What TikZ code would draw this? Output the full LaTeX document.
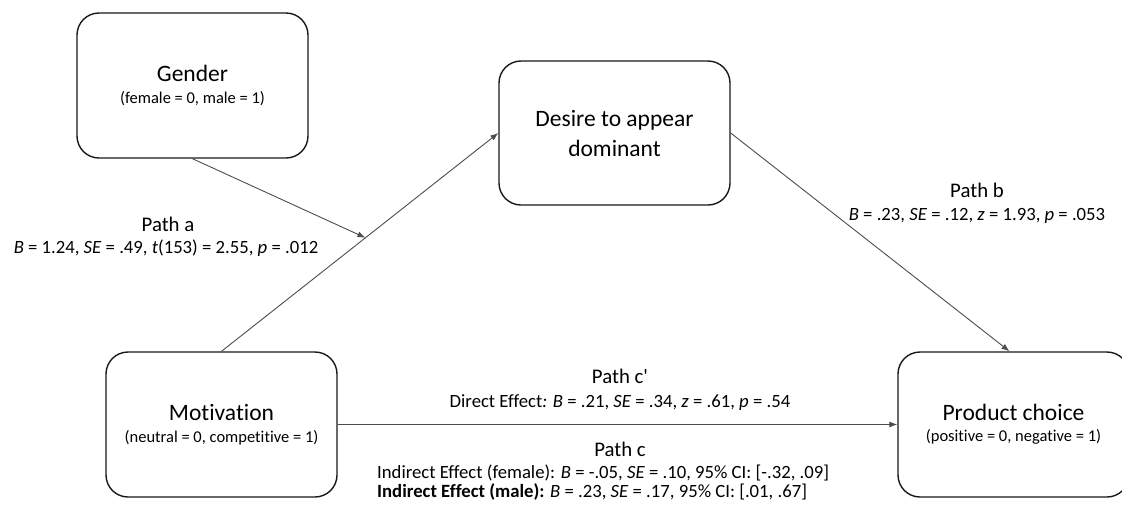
\documentclass[tikz,border=0pt]{standalone}
\usepackage{fontspec}
\setmainfont{Carlito}[Ligatures={TeX,NoCommon}]
\usetikzlibrary{arrows.meta}
\begin{document}
\begin{tikzpicture}[x=1pt,y=-1pt,
  box/.style={draw=black!90, line width=1.4pt, rounded corners=22pt,
    minimum width=231pt, minimum height=145pt, inner sep=0pt, align=center,
    font=\fontsize{16.5}{21.5}\selectfont},
  conn/.style={draw=black!70, line width=0.9pt, -{Latex[length=8pt,width=6pt]}},
  ttl/.style={anchor=base, inner sep=0pt, font=\fontsize{20.8}{24}\selectfont},
  stat/.style={anchor=base, inner sep=0pt, font=\fontsize{18.7}{22}\selectfont},
  big/.style={font=\fontsize{23.5}{30}\selectfont}
]
\useasboundingbox (0,0) rectangle (1122,504);

\node[box] (gender) at (192.5,85.5) {{\fontsize{23.5}{28}\selectfont Gender}\\ (female = 0, male = 1)};
\node[box, big, minimum height=144pt] (desire) at (614.5,133) {Desire to appear\\ dominant};
\node[box] (mot) at (221.5,424.5) {{\fontsize{23.5}{28}\selectfont Motivation}\\ (neutral = 0, competitive = 1)};
\node[box] (prod) at (1013.5,424.5) {{\fontsize{23.5}{28}\selectfont Product choice}\\ (positive = 0, negative = 1)};

\draw[conn] (mot.north) -- (desire.west) coordinate[pos=0.52] (hit);
\draw[conn] (gender.south) -- (hit);
\draw[conn] (desire.east) -- ([xshift=-4pt]prod.north);
\draw[conn] (mot.east) -- (prod.west);

\node[ttl] (pa) at (168,231) {Path a};
\node[stat] (pas) at (166,253) {\textit{B} = 1.24, \textit{SE} = .49, \textit{t}(153) = 2.55, \textit{p} = .012};
\node[ttl] (pb) at (977,197) {Path b};
\node[stat] (pbs) at (977,220) {\textit{B} = .23, \textit{SE} = .12, \textit{z} = 1.93, \textit{p} = .053};
\node[ttl] (pcp) at (620,383) {Path c\textquotesingle};
\node[stat] (pcps) at (620,407) {Direct Effect\textit{:} \textit{B} = .21, \textit{SE} = .34, \textit{z} = .61, \textit{p} = .54};
\node[ttl] (pc) at (620,456) {Path c};
\node[stat, anchor=base west] (pcf) at (377,478) {Indirect Effect (female): \textit{B} = -.05, \textit{SE} = .10, 95\% CI: [-.32, .09]};
\node[stat, anchor=base west] (pcm) at (377,497) {\textbf{Indirect Effect (male):} \textit{B} = .23, \textit{SE} = .17, 95\% CI: [.01, .67]};
\end{tikzpicture}
\end{document}
